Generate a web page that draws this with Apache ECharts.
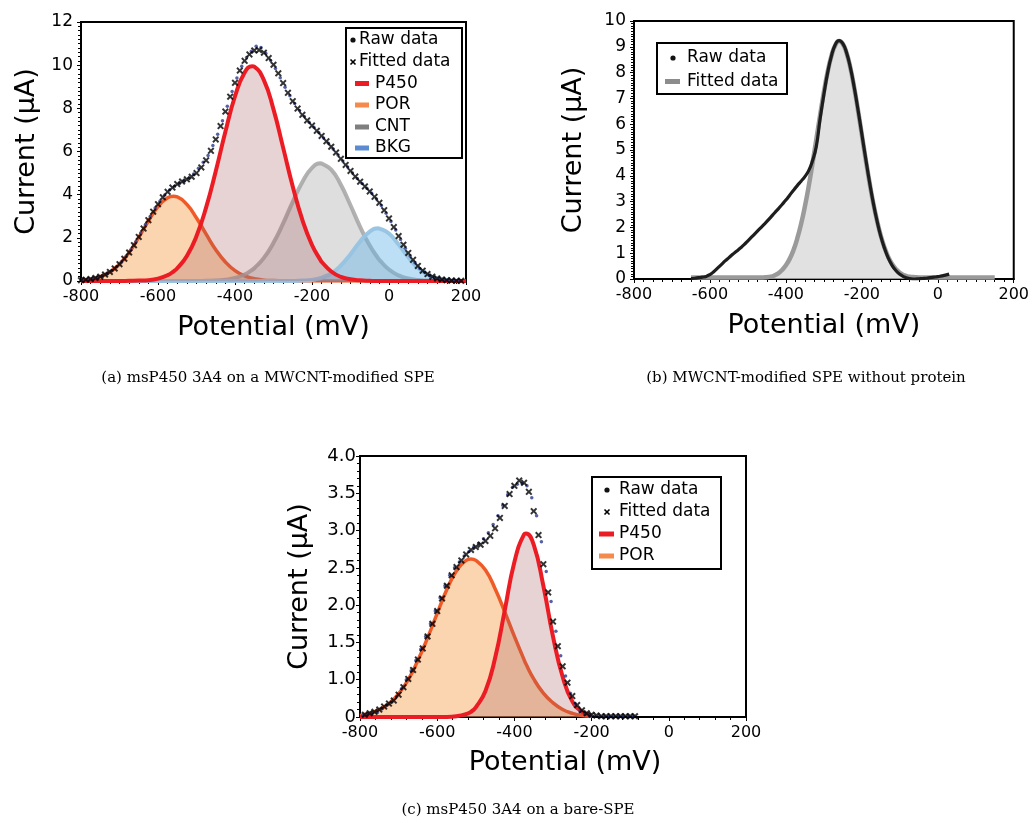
<!DOCTYPE html>
<html><head><meta charset="utf-8">
<script src="https://cdn.jsdelivr.net/npm/echarts@6/dist/echarts.min.js"></script>
<style>html,body{margin:0;padding:0;background:#fff}#c{width:1032px;height:823px}</style>
</head><body><div id="c"></div>
<script>
// ---------- Panel (a): msP450 3A4 on a MWCNT-modified SPE ----------
const potA = [-800,-775,-750,-725,-700,-675,-650,-625,-600,-575,-560,-550,-525,-500,-475,-450,-425,-400,-375,-355,-350,-325,-300,-275,-250,-225,-200,-177,-175,-150,-125,-100,-75,-50,-28,-25,0,25,50,75,100,125,150,175,200];
const porA  = [0.04,0.09,0.20,0.42,0.78,1.32,2.02,2.78,3.45,3.86,3.93,3.90,3.55,2.92,2.17,1.45,0.88,0.48,0.24,0.13,0.11,0.04,0.02,0.01,0,0,0,0,0,0,0,0,0,0,0,0,0,0,0,0,0,0,0,0,0];
const p450A = [0,0,0,0,0,0.01,0.02,0.04,0.11,0.27,0.44,0.59,1.16,2.08,3.41,5.09,6.91,8.56,9.66,9.95,9.93,9.31,7.95,6.18,4.38,2.83,1.67,0.94,0.89,0.44,0.19,0.08,0.03,0.01,0,0,0,0,0,0,0,0,0,0,0];
const cntA  = [0,0,0,0,0,0,0,0,0,0,0,0,0,0,0.01,0.02,0.06,0.14,0.30,0.52,0.59,1.07,1.77,2.67,3.67,4.59,5.24,5.45,5.44,5.16,4.46,3.51,2.51,1.64,1.05,0.98,0.53,0.26,0.12,0.05,0.02,0.01,0,0,0];
const bkgA  = [0,0,0,0,0,0,0,0,0,0,0,0,0,0,0,0,0,0,0,0,0,0,0,0,0,0.02,0.05,0.14,0.15,0.35,0.72,1.24,1.83,2.29,2.44,2.43,2.20,1.69,1.11,0.61,0.29,0.12,0.04,0.01,0];
const fitPotA = [-800,-787.5,-775,-762.5,-750,-737.5,-725,-712.5,-700,-687.5,-675,-662.5,-650,-637.5,-625,-612.5,-600,-587.5,-575,-562.5,-550,-537.5,-525,-512.5,-500,-487.5,-475,-462.5,-450,-437.5,-425,-412.5,-400,-387.5,-375,-362.5,-350,-337.5,-325,-312.5,-300,-287.5,-275,-262.5,-250,-237.5,-225,-212.5,-200,-187.5,-175,-162.5,-150,-137.5,-125,-112.5,-100,-87.5,-75,-62.5,-50,-37.5,-25,-12.5,0,12.5,25,37.5,50,62.5,75,87.5,100,112.5,125,137.5,150,162.5,175,187.5];
const fitA = [0.04,0.06,0.09,0.14,0.20,0.30,0.42,0.58,0.78,1.03,1.32,1.66,2.04,2.43,2.82,3.21,3.56,3.88,4.13,4.33,4.49,4.61,4.71,4.83,5.00,5.26,5.59,6.03,6.56,7.18,7.85,8.54,9.18,9.75,10.20,10.50,10.68,10.70,10.58,10.33,10.02,9.62,9.17,8.72,8.33,7.99,7.70,7.44,7.20,6.96,6.72,6.47,6.22,5.95,5.66,5.38,5.10,4.84,4.60,4.38,4.15,3.90,3.62,3.28,2.90,2.50,2.08,1.68,1.30,0.98,0.70,0.48,0.32,0.20,0.12,0.07,0.04,0.02,0.01,0.01];
const rawPotA = [-795,-782.5,-770,-757.5,-745,-732.5,-720,-707.5,-695,-682.5,-670,-657.5,-645,-632.5,-620,-607.5,-595,-582.5,-570,-557.5,-545,-532.5,-520,-507.5,-495,-482.5,-470,-457.5,-445,-432.5,-420,-407.5,-395,-382.5,-370,-357.5,-345,-332.5,-320,-307.5,-295,-282.5,-270,-257.5,-245,-232.5,-220,-207.5,-195,-182.5,-170,-157.5,-145,-132.5,-120,-107.5,-95,-82.5,-70,-57.5,-45,-32.5,-20,-7.5,5,17.5,30,42.5,55,67.5,80,92.5,105,117.5,130,142.5,155,167.5,180];
const rawA = [0.05,0.07,0.10,0.16,0.21,0.33,0.47,0.66,0.88,1.15,1.45,1.82,2.22,2.62,3.00,3.38,3.70,3.98,4.22,4.38,4.52,4.62,4.76,4.96,5.22,5.50,5.82,6.28,6.80,7.42,8.10,8.78,9.40,9.95,10.35,10.65,10.88,10.82,10.55,10.22,9.85,9.42,8.98,8.58,8.22,7.90,7.62,7.36,7.12,6.88,6.63,6.38,6.12,5.84,5.56,5.28,5.00,4.75,4.52,4.30,4.06,3.80,3.50,3.14,2.76,2.36,1.92,1.52,1.16,0.84,0.58,0.40,0.26,0.16,0.10,0.06,0.03,0.02,0.01];

// ---------- Panel (b): MWCNT-modified SPE without protein ----------
const fitPotB = [-650,-600,-550,-500,-460,-450,-440,-430,-420,-410,-400,-390,-380,-370,-360,-350,-340,-330,-320,-310,-300,-290,-280,-270,-260,-250,-240,-230,-220,-210,-200,-190,-180,-170,-160,-150,-140,-130,-120,-110,-100,-90,-80,-70,-60,-50,-40,0,50,100,150];
const fitB = [0.06,0.06,0.06,0.06,0.06,0.07,0.09,0.14,0.22,0.35,0.53,0.78,1.12,1.57,2.13,2.81,3.59,4.47,5.40,6.34,7.24,8.03,8.65,9.06,9.22,9.11,8.75,8.17,7.41,6.53,5.59,4.65,3.76,2.95,2.26,1.67,1.21,0.84,0.57,0.38,0.24,0.15,0.10,0.08,0.07,0.06,0.06,0.06,0.06,0.06,0.06];
const rawPotB = [-650,-640,-630,-620,-610,-600,-590,-580,-570,-560,-550,-540,-530,-520,-510,-500,-490,-480,-470,-460,-450,-440,-430,-420,-410,-400,-390,-380,-370,-360,-350,-340,-330,-320,-310,-300,-290,-280,-270,-260,-250,-240,-230,-220,-210,-200,-190,-180,-170,-160,-150,-140,-130,-120,-110,-100,-90,-80,-70,-60,-50,-40,-30,-20,-10,0,10,20,30];
const rawB = [0.02,0.03,0.05,0.07,0.10,0.17,0.28,0.42,0.56,0.70,0.83,0.96,1.08,1.20,1.33,1.48,1.63,1.78,1.93,2.08,2.23,2.39,2.56,2.72,2.89,3.06,3.25,3.44,3.62,3.79,3.97,4.20,4.58,5.13,6.20,7.15,8.00,8.65,9.08,9.24,9.12,8.76,8.18,7.42,6.55,5.62,4.68,3.78,2.96,2.25,1.65,1.18,0.80,0.52,0.32,0.18,0.09,0.04,0.01,0.00,0.01,0.02,0.03,0.05,0.07,0.09,0.12,0.15,0.19];

// ---------- Panel (c): msP450 3A4 on a bare-SPE (values as read against the tick labels) ----------
const potC = [-800,-775,-750,-725,-700,-675,-650,-625,-600,-575,-550,-525,-512.5,-500,-475,-450,-425,-400,-375,-370,-350,-325,-300,-275,-250,-225,-200];
const porC  = [0.52,0.55,0.60,0.68,0.81,1.00,1.26,1.56,1.89,2.21,2.46,2.60,2.62,2.60,2.47,2.22,1.91,1.58,1.27,1.21,1.01,0.82,0.69,0.60,0.55,0.52,0.51];
const p450C = [0.50,0.50,0.50,0.50,0.50,0.50,0.50,0.50,0.50,0.50,0.51,0.54,0.57,0.63,0.85,1.29,1.93,2.58,2.95,2.96,2.81,2.26,1.58,1.04,0.71,0.57,0.52];
const fitPotC = [-787.5,-775,-762.5,-750,-737.5,-725,-712.5,-700,-687.5,-675,-662.5,-650,-637.5,-625,-612.5,-600,-587.5,-575,-562.5,-550,-537.5,-525,-512.5,-500,-487.5,-475,-462.5,-450,-437.5,-425,-412.5,-400,-387.5,-375,-362.5,-350,-337.5,-325,-312.5,-300,-287.5,-275,-262.5,-250,-237.5,-225,-212.5,-200,-187.5,-175,-162.5,-150,-137.5,-125,-112.5,-100,-87.5];
const fitC = [0.53,0.55,0.57,0.60,0.64,0.68,0.72,0.80,0.90,1.01,1.13,1.27,1.42,1.58,1.75,1.92,2.09,2.26,2.40,2.51,2.60,2.68,2.74,2.78,2.81,2.86,2.93,3.03,3.17,3.33,3.49,3.60,3.67,3.64,3.52,3.26,2.94,2.55,2.17,1.78,1.45,1.18,0.96,0.78,0.66,0.59,0.55,0.53,0.52,0.51,0.51,0.51,0.51,0.51,0.51,0.51,0.51];
const rawPotC = [-792.5,-780,-767.5,-755,-742.5,-730,-717.5,-705,-692.5,-680,-667.5,-655,-642.5,-630,-617.5,-605,-592.5,-580,-567.5,-555,-542.5,-530,-517.5,-505,-492.5,-480,-467.5,-455,-442.5,-430,-417.5,-405,-392.5,-380,-367.5,-355,-342.5,-330,-317.5,-305,-292.5,-280,-267.5,-255,-242.5,-230,-217.5,-205,-192.5,-180,-167.5,-155,-142.5,-130,-117.5,-105,-92.5];
const rawC = [0.52,0.54,0.55,0.56,0.61,0.66,0.70,0.77,0.88,1.00,1.12,1.26,1.41,1.58,1.75,1.92,2.10,2.26,2.40,2.50,2.58,2.66,2.72,2.78,2.83,2.89,2.97,3.08,3.20,3.34,3.48,3.58,3.62,3.63,3.60,3.44,3.20,2.85,2.45,2.05,1.65,1.32,1.05,0.82,0.68,0.58,0.54,0.52,0.51,0.51,0.51,0.51,0.51,0.51,0.51,0.51,0.51];

// ---------- text ----------
const xTitle = 'Potential (mV)';
const yTitle = 'Current (μA)';
const captions = ['(a) msP450 3A4 on a MWCNT-modified SPE', '(b) MWCNT-modified SPE without protein', '(c) msP450 3A4 on a bare-SPE'];

// ---------- styling ----------
const FONT = '"DejaVu Sans", sans-serif';
const X_MARK = 'path://M0,2L2,0L5,3L8,0L10,2L7,5L10,8L8,10L5,7L2,10L0,8L3,5Z';
const C = {
  p450Line:'#ec1c24', p450Fill:'rgba(165,85,95,0.38)',
  porLine:'#ef5a26', porFill:'rgba(245,165,85,0.66)', porLeg:'#f58a4b',
  cntLine:'rgba(165,165,165,0.85)', cntFill:'rgba(150,150,150,0.45)', cntLeg:'#7f7f7f',
  bkgLine:'rgba(150,195,225,0.95)', bkgFill:'rgba(95,178,230,0.6)', bkgLeg:'#5b8bd0',
  raw:'#2b3a8c'
};
const pairs = (xs, ys) => xs.map((x, i) => [x, ys[i]]);

function xAx(gi, split, gap, pad){
  return {type:'value', gridIndex:gi, min:-800, max:200, interval:200,
    name:xTitle, nameLocation:'middle', nameGap:gap,
    nameTextStyle:{fontSize:27, color:'#000', fontFamily:FONT, padding:pad||0},
    axisLine:{onZero:false, lineStyle:{color:'#000', width:2}},
    axisTick:{show:true, length:4, lineStyle:{color:'#000', width:1}},
    minorTick:{show:true, splitNumber:split, length:3, lineStyle:{color:'#000', width:1}},
    axisLabel:{color:'#000', fontSize:16, margin:8, fontFamily:FONT},
    splitLine:{show:false}, minorSplitLine:{show:false}};
}
function yAx(gi, min, max, interval, split, gap, margin, size, fmt){
  return {type:'value', gridIndex:gi, min:min, max:max, interval:interval,
    name:yTitle, nameLocation:'middle', nameGap:gap,
    nameTextStyle:{fontSize:27, color:'#000', fontFamily:FONT},
    axisLine:{onZero:false, lineStyle:{color:'#000', width:2}},
    axisTick:{show:true, length:4, lineStyle:{color:'#000', width:1}},
    minorTick:{show:true, splitNumber:split, length:3, lineStyle:{color:'#000', width:1}},
    axisLabel:{color:'#000', fontSize:size, margin:margin, fontFamily:FONT, formatter:fmt},
    splitLine:{show:false}, minorSplitLine:{show:false}};
}
function comp(name, gi, xs, ys, line, fill, w, z){
  return {name:name, type:'line', xAxisIndex:gi, yAxisIndex:gi, data:pairs(xs, ys),
    smooth:true, symbol:'none', z:z,
    lineStyle:{color:line, width:w}, itemStyle:{color:line},
    areaStyle:{color:fill, origin:'start'}};
}
function rawPts(name, gi, xs, ys){
  return {name:name, type:'scatter', xAxisIndex:gi, yAxisIndex:gi, data:pairs(xs, ys),
    symbol:'circle', symbolSize:3.5, itemStyle:{color:C.raw}, z:8};
}
function fitPts(name, gi, xs, ys){
  return {name:name, type:'scatter', xAxisIndex:gi, yAxisIndex:gi, data:pairs(xs, ys),
    symbol:X_MARK, symbolSize:7, itemStyle:{color:'#000'}, z:9};
}

// legend drawn as graphic (box + icons + real text)
function legendBox(box, rows){
  const ch = [{type:'rect', shape:{x:box[0], y:box[1], width:box[2], height:box[3]},
    style:{fill:'#fff', stroke:'#000', lineWidth:2}}];
  rows.forEach(r => {
    if (r.kind === 'dot') ch.push({type:'circle', shape:{cx:r.ix, cy:r.y, r:2.6}, style:{fill:'#111'}});
    else if (r.kind === 'x') {
      ch.push({type:'line', shape:{x1:r.ix-2.5, y1:r.y-2.5, x2:r.ix+2.5, y2:r.y+2.5}, style:{stroke:'#000', lineWidth:1.6}});
      ch.push({type:'line', shape:{x1:r.ix-2.5, y1:r.y+2.5, x2:r.ix+2.5, y2:r.y-2.5}, style:{stroke:'#000', lineWidth:1.6}});
    } else ch.push({type:'rect', shape:{x:r.ix, y:r.y-2.5, width:r.iw, height:5}, style:{fill:r.color}});
    ch.push({type:'text', style:{text:r.label, x:r.tx, y:r.y, fill:'#000', font:'17px ' + FONT, verticalAlign:'middle', align:'left'}});
  });
  return {type:'group', z:100, children:ch};
}

const chart = echarts.init(document.getElementById('c'), null, {renderer:'canvas'});
chart.setOption({
  backgroundColor:'#fff',
  animation:false,
  textStyle:{fontFamily:FONT},
  grid:[
    {left:81, top:22, width:385, height:259, show:true, borderColor:'#000', borderWidth:2, backgroundColor:'transparent'},
    {left:634, top:21, width:384, height:258, show:true, borderColor:'#000', borderWidth:2, backgroundColor:'transparent'},
    {left:360, top:456, width:386, height:261, show:true, borderColor:'#000', borderWidth:2, backgroundColor:'transparent'}
  ],
  xAxis:[ xAx(0, 8, 33), xAx(1, 8, 33), xAx(2, 5, 32, [0,0,0,24]) ],
  yAxis:[
    yAx(0, 0, 12, 2, 10, 41, 8, 17),
    yAx(1, 0, 10, 1, 10, 47, 8, 17),
    yAx(2, 0.5, 4, 0.5, 5, 47, 4, 18, v => Math.abs(v - 0.5) < 1e-9 ? '0' : v.toFixed(1))
  ],
  series:[
    comp('POR', 0, potA, porA, C.porLine, C.porFill, 3.5, 2),
    comp('CNT', 0, potA, cntA, C.cntLine, C.cntFill, 4, 3),
    comp('BKG', 0, potA, bkgA, C.bkgLine, C.bkgFill, 4, 4),
    comp('P450', 0, potA, p450A, C.p450Line, C.p450Fill, 4, 5),
    rawPts('Raw data', 0, rawPotA, rawA),
    fitPts('Fitted data', 0, fitPotA, fitA),

    comp('Fitted data (b)', 1, fitPotB, fitB, '#9a9a9a', '#d4d4d4', 4.5, 2),
    {name:'Raw data (b)', type:'line', xAxisIndex:1, yAxisIndex:1, data:pairs(rawPotB, rawB),
     smooth:true, symbol:'none', z:6, lineStyle:{color:'#1e1e1e', width:3.2}},

    comp('POR (c)', 2, potC, porC, C.porLine, C.porFill, 3.5, 2),
    comp('P450 (c)', 2, potC, p450C, C.p450Line, C.p450Fill, 4, 5),
    rawPts('Raw data (c)', 2, rawPotC, rawC),
    fitPts('Fitted data (c)', 2, fitPotC, fitC)
  ],
  graphic:[
    legendBox([346, 28, 116, 130], [
      {kind:'dot', ix:353, tx:359, y:40, label:'Raw data'},
      {kind:'x', ix:353, tx:359, y:62, label:'Fitted data'},
      {kind:'line', ix:355, iw:14, tx:375, y:83.5, color:C.p450Line, label:'P450'},
      {kind:'line', ix:355, iw:14, tx:375, y:105, color:C.porLeg, label:'POR'},
      {kind:'line', ix:355, iw:14, tx:375, y:127, color:C.cntLeg, label:'CNT'},
      {kind:'line', ix:355, iw:14, tx:375, y:148, color:C.bkgLeg, label:'BKG'}
    ]),
    legendBox([657, 43, 130, 51], [
      {kind:'dot', ix:673, tx:687, y:58, label:'Raw data'},
      {kind:'line', ix:665, iw:15, tx:687, y:81.5, color:'#8c8c8c', label:'Fitted data'}
    ]),
    legendBox([592, 477, 129, 92], [
      {kind:'dot', ix:607, tx:619, y:490, label:'Raw data'},
      {kind:'x', ix:607, tx:619, y:512, label:'Fitted data'},
      {kind:'line', ix:599, iw:15, tx:619, y:534, color:C.p450Line, label:'P450'},
      {kind:'line', ix:599, iw:15, tx:619, y:556, color:C.porLeg, label:'POR'}
    ]),
    {type:'text', z:100, style:{text:captions[0], x:268, y:378, fill:'#000', font:'15px "DejaVu Serif", serif', align:'center', verticalAlign:'middle'}},
    {type:'text', z:100, style:{text:captions[1], x:806, y:378, fill:'#000', font:'15px "DejaVu Serif", serif', align:'center', verticalAlign:'middle'}},
    {type:'text', z:100, style:{text:captions[2], x:518, y:810, fill:'#000', font:'15px "DejaVu Serif", serif', align:'center', verticalAlign:'middle'}}
  ]
});
</script></body></html>
